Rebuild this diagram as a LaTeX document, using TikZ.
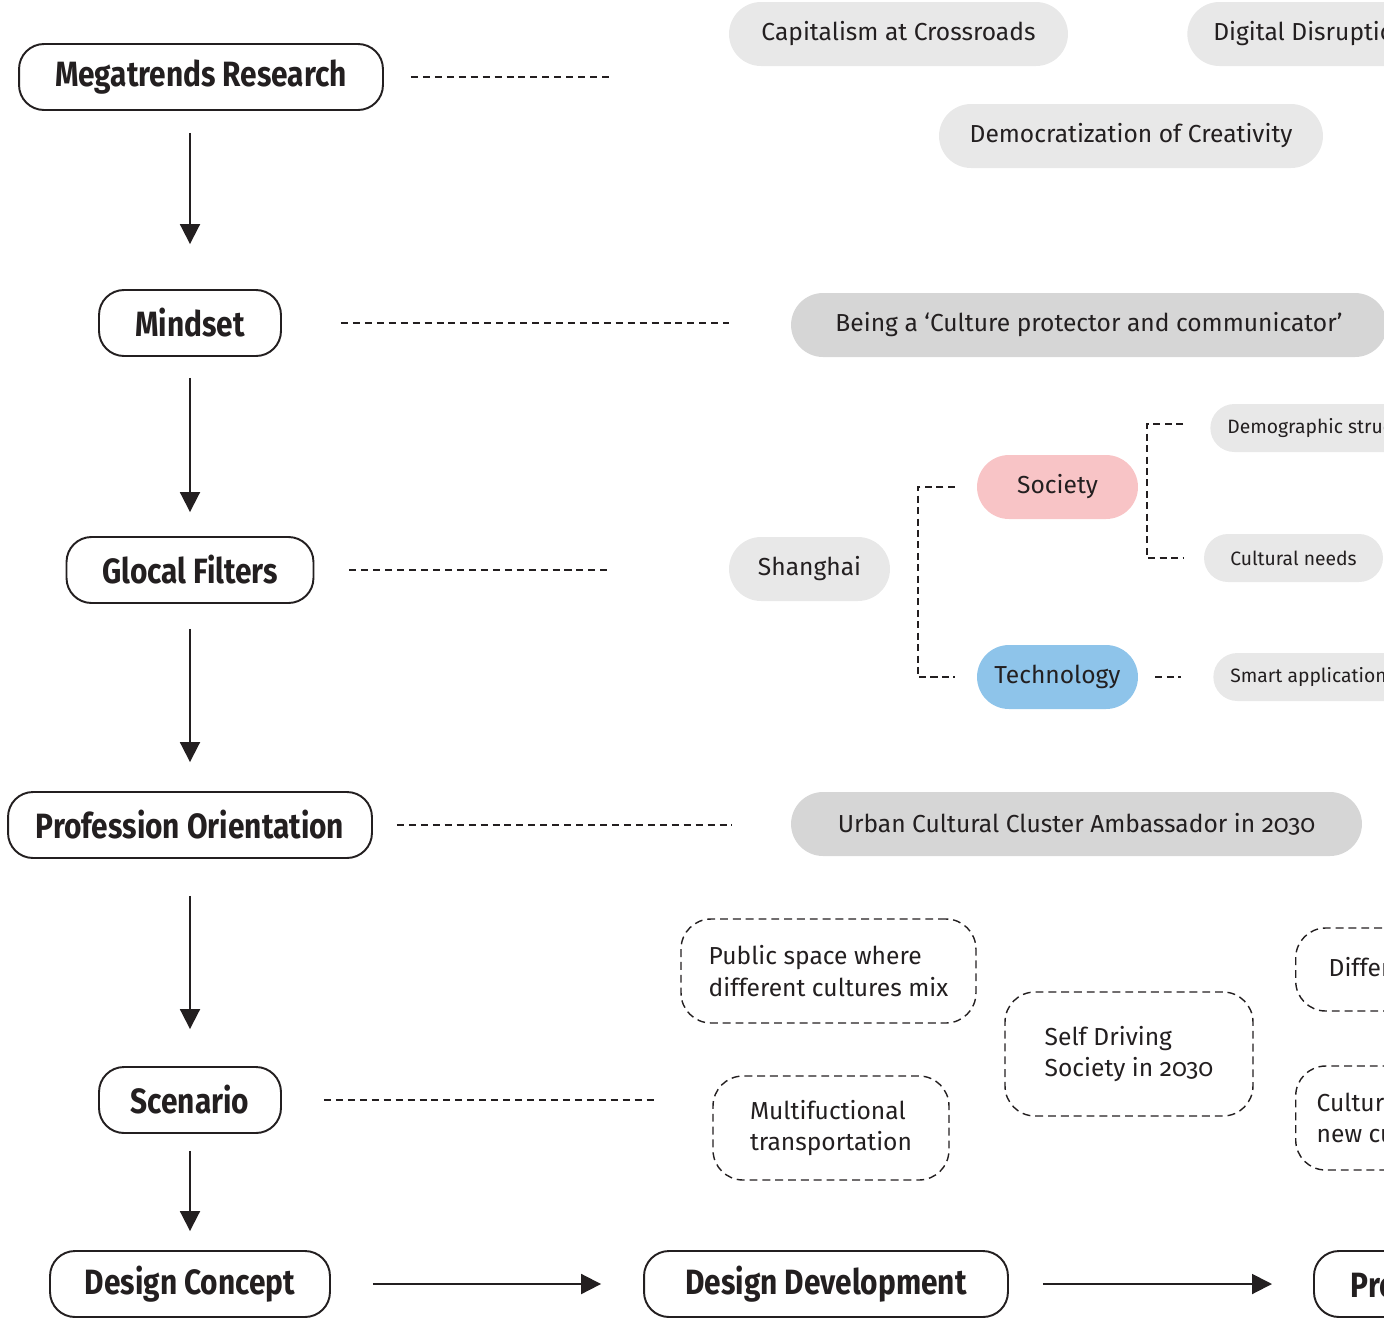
\documentclass[tikz,border=0pt]{standalone}
\usepackage{fontspec}
\setmainfont{Fira Sans}[Numbers=OldStyle,BoldFeatures={FakeStretch=0.85}]
\usetikzlibrary{arrows.meta,positioning}
\definecolor{ink}{RGB}{35,31,32}
\definecolor{pill}{RGB}{232,232,232}
\definecolor{pilldark}{RGB}{214,214,214}
\definecolor{socpink}{RGB}{248,196,198}
\definecolor{techblue}{RGB}{142,196,234}

\begin{document}
\begin{tikzpicture}[
    x=0.02cm,y=-0.02cm,
    >={Triangle[length=0.4cm,width=0.4cm]},
    stage/.style={draw=ink,line width=1.1pt,rounded corners=0.5cm,minimum height=1.32cm,
                  inner sep=0pt,text=ink,font=\fontsize{20}{24}\selectfont\bfseries},
    trend/.style={fill=pill,rounded corners=0.64cm,minimum height=1.28cm,inner sep=0pt,
                  text=ink,font=\fontsize{14}{17}\selectfont},
    role/.style={trend,fill=pilldark},
    leaf/.style={trend,rounded corners=0.48cm,minimum height=0.96cm,
                 font=\fontsize{11}{13}\selectfont},
    idea/.style={draw=ink,line width=0.8pt,dash pattern=on 4.5pt off 2.8pt,
                 rounded corners=0.6cm,align=left,inner sep=0pt,text=ink,
                 font=\fontsize{14}{18}\selectfont},
    flow/.style={->,ink,line width=1.1pt},
    link/.style={ink,line width=0.8pt,dash pattern=on 4pt off 2.8pt},
    bracket/.style={ink,line width=1pt,dash pattern=on 4pt off 2.5pt}]
  \clip (0,0) rectangle (1384,1323);

  \node[stage,minimum width=7.28cm] (mr) at (201,77) {Megatrends Research};
  \node[stage,minimum width=3.64cm] (ms) at (190,323) {Mindset};
  \node[stage,minimum width=4.94cm] (gf) at (190,570) {Glocal Filters};
  \node[stage,minimum width=7.28cm] (po) at (190,825) {Profession Orientation};
  \node[stage,minimum width=3.64cm] (sc) at (190,1100) {Scenario};
  \node[stage,minimum width=5.6cm] (dc) at (190,1284) {Design Concept};
  \node[stage,minimum width=7.28cm] (dd) at (826,1284) {Design Development};
  \node[stage,anchor=west,inner xsep=0.74cm] (pt) at (1313,1284) {Presentation};

  \node[trend,minimum width=6.78cm] (cap) at (898.5,34) {Capitalism at Crossroads};
  \node[trend,anchor=west,inner xsep=0.52cm] (dig) at (1187,34) {Digital Disruption};
  \node[trend,minimum width=7.68cm] (dem) at (1131,136) {Democratization of Creativity};
  \coordinate (mrEnd) at (610,77);

  \node[role,minimum width=11.92cm] (cul) at (1089,325) {Being a ‘Culture protector and communicator’};

  \node[trend,minimum width=3.22cm] (sh) at (809.5,569) {Shanghai};
  \node[trend,fill=socpink,minimum width=3.22cm] (soc) at (1057.5,487) {Society};
  \node[trend,fill=techblue,minimum width=3.22cm] (tec) at (1057.5,677) {Technology};
  \node[leaf,anchor=west,inner xsep=0.34cm] (demo) at (1210,428) {Demographic structure};
  \node[leaf,minimum width=3.58cm] (need) at (1293.5,558) {Cultural needs};
  \node[leaf,anchor=west,inner xsep=0.34cm] (smart) at (1213,677) {Smart applications};

  \node[role,minimum width=11.42cm] (amb) at (1076.5,824) {Urban Cultural Cluster Ambassador in 2030};

  \node[idea,minimum width=5.9cm,minimum height=2.08cm] (pub) at (828.5,971)
    {Public space where\\different cultures mix};
  \node[idea,minimum width=4.72cm,minimum height=2.08cm] (mt) at (831,1128)
    {Multifuctional\\transportation};
  \node[idea,minimum width=4.96cm,minimum height=2.48cm] (sd) at (1129,1054)
    {Self Driving\\Society in 2030};
  \node[idea,anchor=west,minimum height=1.66cm,inner xsep=0.66cm] (dif) at (1295,969.5)
    {Different lifestyles};
  \node[idea,anchor=west,minimum height=2.08cm,inner xsep=0.42cm] (cx) at (1295,1118)
    {Cultural exchange\\new culture};

  \draw[flow,shorten <=0.44cm,shorten >=0.9cm] (mr.south -| ms.north) -- (ms.north);
  \draw[flow,shorten <=0.42cm,shorten >=0.48cm] (ms) -- (gf);
  \draw[flow,shorten <=0.5cm,shorten >=0.58cm] (gf) -- (po);
  \draw[flow,shorten <=0.74cm,shorten >=0.74cm] (po) -- (sc);
  \draw[flow,shorten <=0.34cm,shorten >=0.38cm] (sc) -- (dc);
  \draw[flow,shorten <=0.84cm,shorten >=0.84cm] (dc) -- (dd);
  \draw[flow,shorten <=0.68cm,shorten >=0.82cm] (dd) -- (pt);

  \draw[link,shorten <=0.54cm] (mr.east) -- (mrEnd);
  \draw[link,shorten <=1.18cm,shorten >=1.24cm] (ms.east) -- (ms.east -| cul.west);
  \draw[link,shorten <=0.7cm,shorten >=2.38cm] (gf.east) -- (gf.east -| sh.west);
  \draw[link,shorten <=0.48cm,shorten >=1.18cm] (po.east) -- (po.east -| amb.west);
  \draw[link,shorten <=0.84cm,shorten >=1.12cm] (sc.east) -- (sc.east -| mt.west);

  \draw[bracket,shorten <=0.44cm,shorten >=0.44cm] (soc.west) -- ++(-59,0) |- (tec.west);
  \draw[bracket,shorten <=0.54cm,shorten >=0.42cm] ([yshift=0.08cm]demo.west) -- ++(-63,0) |- (need.west);
  \draw[bracket,shorten <=0.34cm,shorten >=0.64cm] (tec.east) -- (smart.west);
\end{tikzpicture}
\end{document}
